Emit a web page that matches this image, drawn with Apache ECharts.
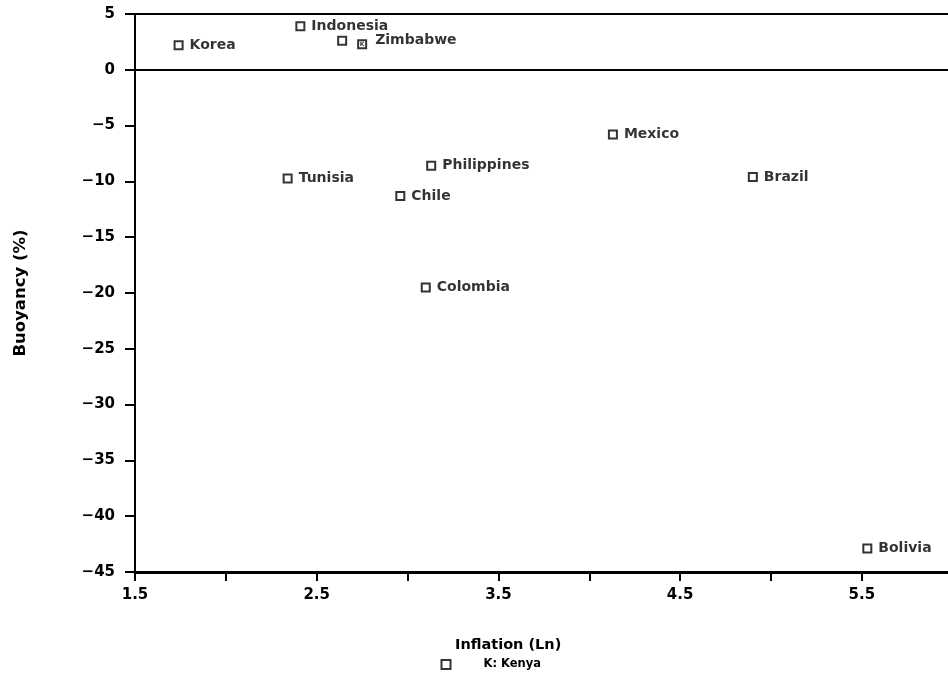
<!DOCTYPE html>
<html>
<head>
<meta charset="utf-8">
<script src="https://cdn.jsdelivr.net/npm/echarts@6/dist/echarts.min.js"></script>
<style>
html,body{margin:0;padding:0;background:#fff;}
#c{width:948px;height:674px;}
</style>
</head>
<body>
<div id="c"></div>
<script>
const countries = ['Korea','Indonesia','Zimbabwe','Tunisia','Chile','Philippines','Colombia','Mexico','Brazil','Bolivia'];
const inflation = [1.74, 2.41, 2.64, 2.34, 2.96, 3.13, 3.10, 4.13, 4.90, 5.53];
const buoyancy  = [2.2, 3.9, 2.6, -9.75, -11.3, -8.6, -19.5, -5.8, -9.6, -42.9];
const kenya = { name: 'K: Kenya', inflation: 2.75, buoyancy: 2.3 };
const xTicks = [1.5, 2.5, 3.5, 4.5, 5.5];
const yTicks = [5, 0, -5, -10, -15, -20, -25, -30, -35, -40, -45];

const FONT = 'DejaVu Sans';
const chart = echarts.init(document.getElementById('c'), null, {renderer:'canvas'});

const mainData = countries.map((c,i) => {
  const d = { name: c, value: [inflation[i], buoyancy[i]] };
  if (c === 'Zimbabwe') d.label = { distance: 28 };
  return d;
});

chart.setOption({
  animation: false,
  backgroundColor: '#fff',
  textStyle: { fontFamily: FONT },
  grid: { left: 135, right: 0, top: 14, bottom: 102 },
  title: {
    text: 'Inflation (Ln)', left: 450, top: 633,
    textStyle: { fontFamily: FONT, fontWeight: 'bold', fontSize: 14.5, color: '#000' }
  },
  legend: {
    data: [kenya.name], left: 435.5, top: 653.5, itemWidth: 9, itemHeight: 9,
    icon: 'rect',
    textStyle: { fontFamily: FONT, fontWeight: 'bold', fontSize: 11.5, color: '#000', padding: [0,0,0,28] },
    itemStyle: { color: '#fff', borderColor: '#000', borderWidth: 2 }
  },
  xAxis: [{
    type: 'value', min: 1.5, max: 5.974, interval: 0.5,
    axisLine: { show: true, onZero: false, lineStyle: { color: '#000', width: 3 } },
    axisTick: { show: true, length: 9, inside: false, lineStyle: { color: '#000', width: 2 } },
    splitLine: { show: false },
    axisLabel: {
      margin: 16, color: '#000', fontWeight: 'bold', fontSize: 15, fontFamily: FONT,
      showMaxLabel: false,
      formatter: v => xTicks.some(t => Math.abs(t - v) < 1e-6) ? v.toFixed(1) : ''
    }
  }, {
    type: 'value', position: 'top', min: 1.5, max: 5.974,
    axisLine: { show: true, onZero: false, lineStyle: { color: '#000', width: 2 } },
    axisTick: { show: false }, axisLabel: { show: false }, splitLine: { show: false }
  }],
  yAxis: {
    type: 'value', min: -45, max: 5, interval: 5,
    name: 'Buoyancy (%)', nameLocation: 'middle', nameGap: 106, nameRotate: 90,
    nameTextStyle: { fontFamily: FONT, fontWeight: 'bold', fontSize: 16.5, color: '#000' },
    axisLine: { show: true, onZero: false, lineStyle: { color: '#000', width: 2 } },
    axisTick: { show: true, length: 10, lineStyle: { color: '#000', width: 2 } },
    splitLine: { show: false },
    axisLabel: {
      margin: 20, color: '#000', fontWeight: 'bold', fontSize: 15, fontFamily: FONT,
      formatter: v => yTicks.includes(v) ? String(v).replace('-', '\u2212') : ''
    }
  },
  series: [
    {
      type: 'scatter', name: 'Countries',
      symbol: 'rect', symbolSize: 8,
      itemStyle: { color: '#fff', borderColor: '#000', borderWidth: 2 },
      label: {
        show: true, position: 'right', distance: 6, formatter: '{b}',
        color: '#000', fontWeight: 'bold', fontSize: 14, fontFamily: FONT
      },
      data: mainData,
      markLine: {
        silent: true, symbol: 'none', label: { show: false },
        lineStyle: { color: '#000', width: 2, type: 'solid' },
        data: [{ yAxis: 0 }]
      },
      z: 3
    },
    {
      type: 'scatter', name: kenya.name,
      symbol: 'rect', symbolSize: 8,
      itemStyle: { color: '#fff', borderColor: '#000', borderWidth: 2 },
      label: {
        show: true, position: 'inside', formatter: 'K',
        color: '#000', fontWeight: 'bold', fontSize: 6, fontFamily: FONT
      },
      data: [[kenya.inflation, kenya.buoyancy]],
      z: 4
    }
  ]
});
</script>
</body>
</html>
